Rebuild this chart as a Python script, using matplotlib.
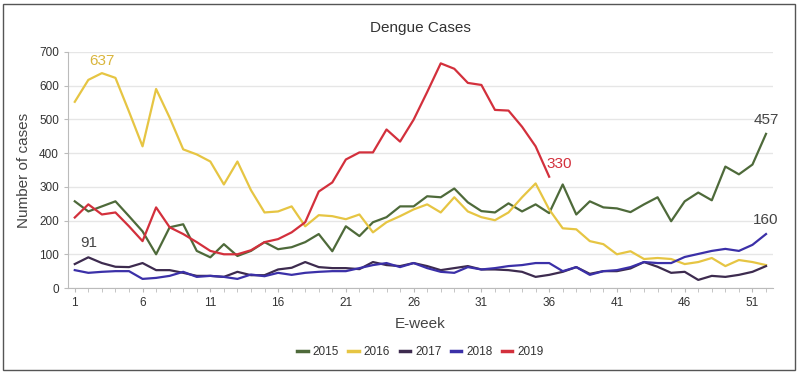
import numpy as np
import matplotlib.pyplot as plt
from matplotlib.patches import Rectangle

plt.rcParams['font.family'] = ['Liberation Sans', 'DejaVu Sans']

weeks = np.arange(1, 53)

cases_2015 = [257, 227, 242, 257, 213, 168, 100, 180, 189, 110, 91, 130, 95,
              110, 136, 115, 121, 136, 160, 109, 183, 154, 195, 210, 242, 242,
              272, 269, 295, 254, 228, 224, 251, 227, 248, 222, 307, 218, 257,
              239, 236, 225, 248, 269, 198, 257, 283, 260, 360, 337, 366, 457]
cases_2016 = [552, 617, 637, 623, 523, 420, 590, 505, 411, 396, 375, 307, 375,
              290, 224, 227, 242, 183, 216, 213, 204, 218, 165, 195, 213, 233,
              248, 224, 269, 227, 210, 201, 224, 269, 310, 233, 177, 174, 139,
              130, 100, 109, 86, 89, 86, 71, 77, 89, 65, 83, 77, 68]
cases_2017 = [71, 91, 74, 63, 62, 74, 53, 53, 45, 36, 36, 33, 48, 38, 38, 55,
              60, 77, 62, 59, 59, 56, 77, 68, 65, 74, 65, 53, 59, 65, 55, 55,
              53, 48, 33, 39, 48, 62, 42, 50, 50, 58, 77, 63, 45, 48, 24, 36,
              33, 39, 48, 65]
cases_2018 = [53, 45, 48, 50, 50, 27, 30, 36, 48, 33, 36, 33, 27, 40, 35, 45,
              39, 45, 48, 50, 50, 59, 68, 74, 62, 74, 59, 48, 45, 62, 55, 59,
              65, 68, 74, 74, 50, 62, 39, 50, 53, 62, 77, 74, 74, 92, 101, 110,
              116, 110, 128, 160]
cases_2019 = [209, 248, 218, 224, 183, 139, 239, 180, 160, 136, 110, 100, 100,
              112, 136, 145, 165, 195, 286, 313, 381, 402, 402, 470, 434, 499,
              581, 666, 650, 608, 602, 528, 526, 478, 420, 330]

series = [
    ("2015", cases_2015, "#4e6a3a"),
    ("2016", cases_2016, "#e6c543"),
    ("2017", cases_2017, "#3d2b4f"),
    ("2018", cases_2018, "#3b30a8"),
    ("2019", cases_2019, "#d3303c"),
]

fig = plt.figure(figsize=(8, 3.76), dpi=100)
ax = fig.add_axes([0.085, 0.234, 0.881, 0.628])

for name, vals, col in series:
    ax.plot(weeks[:len(vals)], vals, color=col, lw=1.6, label=name)

# value labels
ax.annotate("637", (3, cases_2016[2]), xytext=(0, 4), textcoords="offset points",
            ha="center", va="bottom", fontsize=11, color="#d9b53c")
ax.annotate("91", (2, cases_2017[1]), xytext=(0, 5), textcoords="offset points",
            ha="center", va="bottom", fontsize=11, color="#444444")
ax.annotate("330", (36, cases_2019[-1]), xytext=(-2, 4), textcoords="offset points",
            ha="left", va="bottom", fontsize=11, color="#d3303c")
ax.annotate("457", (52, cases_2015[-1]), xytext=(0, 5), textcoords="offset points",
            ha="center", va="bottom", fontsize=11, color="#444444")
ax.annotate("160", (52, cases_2018[-1]), xytext=(0, 5), textcoords="offset points",
            ha="center", va="bottom", fontsize=11, color="#444444")

ax.set_xlim(0.5, 52.5)
ax.set_ylim(0, 700)
ax.set_xticks(np.arange(1, 53, 5))
ax.set_xticks(weeks, minor=True)
ax.set_yticks(np.arange(0, 701, 100))
ax.tick_params(axis="both", labelsize=8.5, colors="#333333", length=3, color="#bbbbbb")
ax.tick_params(axis="x", which="minor", length=3, color="#bbbbbb")
ax.yaxis.grid(True, color="#e6e6e6", lw=1)
ax.set_axisbelow(True)
for s in ["top", "right"]:
    ax.spines[s].set_visible(False)
ax.spines["left"].set_color("#bbbbbb")
ax.spines["bottom"].set_color("#bbbbbb")

ax.set_title("Dengue Cases", fontsize=11, color="#333333", pad=14)
ax.set_xlabel("E-week", fontsize=11, color="#444444", labelpad=6)
ax.set_ylabel("Number of cases", fontsize=11, color="#444444", labelpad=6)

leg = ax.legend(loc="center", bbox_to_anchor=(0.5, -0.27), ncol=5, frameon=False,
                fontsize=8.5, handlelength=0.9, handletextpad=0.4, columnspacing=0.8,
                labelcolor="#333333")
for line in leg.get_lines():
    line.set_linewidth(2.5)

fig.patches.append(Rectangle((0.004, 0.015), 0.99, 0.975, transform=fig.transFigure,
                             fill=False, edgecolor="#555555", lw=1))

fig.savefig("out.png", dpi=100)
